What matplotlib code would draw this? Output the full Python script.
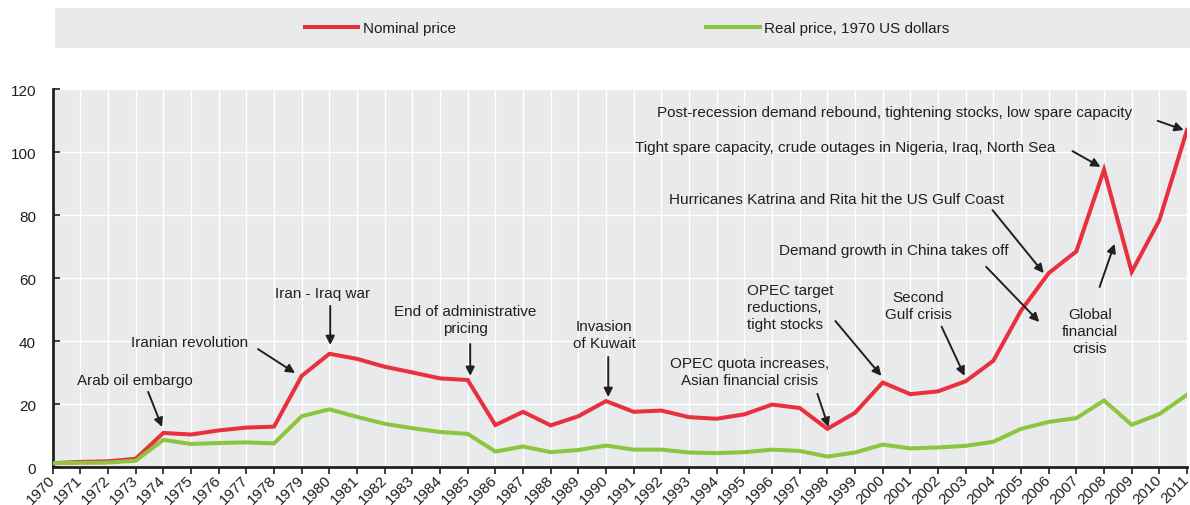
import numpy as np
import matplotlib
matplotlib.use("Agg")
import matplotlib.pyplot as plt
from matplotlib.patches import Rectangle

# ---- data (USD per barrel) ----
years = list(range(1970, 2012))
nominal = [1.3, 1.7, 1.9, 2.7, 10.9, 10.4, 11.7, 12.6, 12.9, 29.0,
           36.0, 34.4, 31.9, 30.1, 28.2, 27.7, 13.4, 17.6, 13.3, 16.2,
           21.0, 17.6, 18.0, 15.9, 15.4, 16.8, 19.9, 18.8, 12.2, 17.3,
           26.9, 23.2, 24.1, 27.3, 33.8, 49.7, 61.6, 68.5, 94.4, 62.0,
           78.4, 107.0]
real = [1.3, 1.4, 1.5, 2.1, 8.7, 7.4, 7.7, 7.9, 7.6, 16.2,
        18.4, 16.0, 13.8, 12.4, 11.2, 10.6, 5.0, 6.6, 4.8, 5.5,
        6.9, 5.6, 5.6, 4.7, 4.5, 4.8, 5.6, 5.2, 3.4, 4.7,
        7.2, 6.0, 6.3, 6.8, 8.1, 12.2, 14.4, 15.6, 21.2, 13.5,
        16.9, 23.0]
series_labels = ["Nominal price", "Real price, 1970 US dollars"]

# annotations: text, text pos, arrow tail, arrow head, alignment
notes = [
    ("Arab oil embargo", (1972.96, 27.7), (1973.45, 23.9), (1973.95, 12.8), "center"),
    ("Iranian revolution", (1974.95, 39.7), (1977.42, 37.5), (1978.76, 29.9), "center"),
    ("Iran - Iraq war", (1979.74, 55.3), (1980.03, 51.2), (1980.03, 38.8), "center"),
    ("End of administrative\npricing", (1984.91, 46.9), (1985.09, 39.1), (1985.09, 29.0), "center"),
    ("Invasion\nof Kuwait", (1989.94, 42.1), (1990.08, 35.0), (1990.08, 22.3), "center"),
    ("OPEC quota increases,\nAsian financial crisis", (1995.18, 30.4), (1997.64, 23.3), (1998.04, 12.8), "center"),
    ("OPEC target\nreductions,\ntight stocks", (1995.11, 50.8), (1998.29, 46.4), (1999.95, 29.0), "left"),
    ("Second\nGulf crisis", (2001.30, 51.3), (2002.13, 44.6), (2002.96, 29.0), "center"),
    ("Demand growth in China takes off", (2000.41, 68.9), (2003.74, 63.6), (2005.66, 46.1), "center"),
    ("Hurricanes Katrina and Rita hit the US Gulf Coast", (1998.33, 85.1), (2003.97, 81.6), (2005.82, 61.6), "center"),
    ("Global\nfinancial\ncrisis", (2007.48, 43.2), (2007.84, 57.2), (2008.38, 70.9), "center"),
    ("Tight spare capacity, crude outages in Nigeria, Iraq, North Sea", (1998.64, 101.6), (2006.86, 100.3), (2007.87, 95.3), "center"),
    ("Post-recession demand rebound, tightening stocks, low spare capacity", (2000.43, 112.7), (2009.94, 109.9), (2010.88, 107.0), "center"),
]

red = "#E8313C"
green = "#8CC63F"
bg = "#E9EAEC"
ink = "#231F20"

plt.rcParams["font.family"] = ["Liberation Sans", "DejaVu Sans"]
plt.rcParams["font.size"] = 11

fig = plt.figure(figsize=(11.9, 5.06), dpi=100)
ax = fig.add_axes([0.0443, 0.0745, 0.9532, 0.7476])
ax.set_facecolor(bg)

ax.plot(years, nominal, color=red, lw=2.9, label=series_labels[0], solid_joinstyle="miter", zorder=3)
ax.plot(years, real, color=green, lw=2.9, label=series_labels[1], solid_joinstyle="miter", zorder=3)

ax.set_xlim(1970, 2011)
ax.set_ylim(0, 120)
ax.set_xticks(years)
ax.set_xticklabels([str(y) for y in years], rotation=45, ha="right", va="center",
                   rotation_mode="anchor", fontsize=11, color=ink)
ax.set_yticks(np.arange(0, 121, 20))
ax.tick_params(axis="x", direction="out", length=5, width=1.2, pad=2, colors=ink)
ax.tick_params(axis="y", direction="in", length=5, width=1.2, pad=12, labelsize=11, colors=ink)
ax.grid(True, color="white", lw=1.0)
ax.set_axisbelow(True)
for s in ["top", "right"]:
    ax.spines[s].set_visible(False)
for s in ["left", "bottom"]:
    ax.spines[s].set_linewidth(2.0)
    ax.spines[s].set_color(ink)

for text, tpos, tail, head, align in notes:
    ax.text(tpos[0], tpos[1], text, ha=align, va="center", fontsize=11, color=ink,
            linespacing=1.25, zorder=4)
    ax.annotate("", xy=head, xytext=tail,
                arrowprops=dict(arrowstyle="-|>", color=ink, lw=1.4, mutation_scale=13,
                                shrinkA=0, shrinkB=0), zorder=4)

# legend strip
fig.patches.append(Rectangle((55 / 1190, 1 - 49 / 506), 1 - 55 / 1190, 40 / 506,
                             transform=fig.transFigure, facecolor=bg, edgecolor="none", zorder=0))
fig.legend(loc="center", bbox_to_anchor=(627 / 1190, 1 - 29 / 506), ncol=2, frameon=False,
           handlelength=3.5, handletextpad=0.3, columnspacing=16.4, fontsize=11,
           labelcolor=ink)

fig.savefig("out.png", dpi=100)
